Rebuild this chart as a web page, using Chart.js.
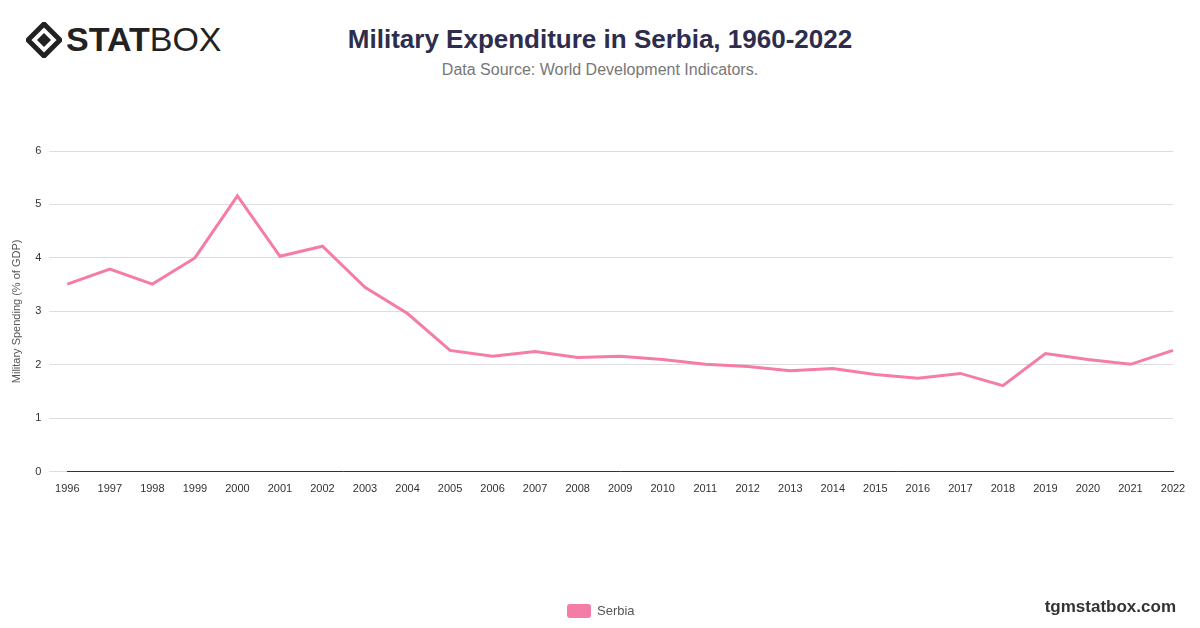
<!DOCTYPE html>
<html>
<head>
<meta charset="utf-8">
<script src="https://cdn.jsdelivr.net/npm/chart.js@4"></script>
<style>
  body { margin: 0; width: 1200px; height: 628px; background: #fff; font-family: "Helvetica Neue", Arial, "Liberation Sans", sans-serif; position: relative; overflow: hidden; }
  #logo { position: absolute; left: 26px; top: 20px; font-size: 34px; color: #222; display: flex; align-items: center; }
  #logo b { font-weight: 900; }
  #title { position: absolute; top: 24px; left: 0; width: 1200px; text-align: center; font-size: 26px; font-weight: bold; color: #2e2d4d; }
  #sub { position: absolute; top: 61px; left: 0; width: 1200px; text-align: center; font-size: 16px; color: #777; }
  #chart { position: absolute; left: 0; top: 0; }
  #legend { position: absolute; top: 603px; left: 567px; font-size: 13px; color: #555; display: flex; align-items: center; }
  #legend span.box { display: inline-block; width: 24px; height: 14px; background: #f47ca6; border-radius: 3px; margin-right: 6px; }
  #site { position: absolute; right: 24px; top: 597px; font-size: 17px; font-weight: bold; color: #333; }
</style>
</head>
<body>
<div id="logo">
  <svg width="36" height="36" viewBox="0 0 36 36"><path d="M18 2 L34 18 L18 34 L2 18 Z" fill="none" stroke="#222" stroke-width="5"/><path d="M18 11 L25 18 L18 25 L11 18 Z" fill="#222"/></svg>
  <span style="margin-left:4px"><b>STAT</b>BOX</span>
</div>
<div id="title">Military Expenditure in Serbia, 1960-2022</div>
<div id="sub">Data Source: World Development Indicators.</div>
<canvas id="chart" width="1200" height="628"></canvas>
<div id="legend"><span class="box"></span>Serbia</div>
<div id="site">tgmstatbox.com</div>
<script>
// Years on the x axis
const years = ['1996','1997','1998','1999','2000','2001','2002','2003','2004','2005','2006','2007','2008','2009',
  '2010','2011','2012','2013','2014','2015','2016','2017','2018','2019','2020','2021','2022'];

// Military spending, % of GDP
const spending = [3.51, 3.79, 3.51, 4.0, 5.16, 4.03, 4.22, 3.45, 2.96, 2.27, 2.16, 2.25, 2.14, 2.16,
  2.1, 2.01, 1.97, 1.89, 1.93, 1.82, 1.75, 1.84, 1.61, 2.21, 2.1, 2.01, 2.27];

const ctx = document.getElementById('chart').getContext('2d');
new Chart(ctx, {
  type: 'line',
  data: {
    labels: years,
    datasets: [{
      label: 'Serbia',
      data: spending,
      borderColor: '#f47ca6',
      backgroundColor: '#f47ca6',
      borderWidth: 3,
      pointRadius: 0,
      tension: 0,
    }],
  },
  options: {
    responsive: false,
    animation: false,
    layout: { padding: { top: 151, left: 6, right: 27, bottom: 129 } },
    plugins: { legend: { display: false }, tooltip: { enabled: false } },
    scales: {
      x: {
        grid: { display: false },
        border: { color: '#333' },
        ticks: { color: '#333', font: { size: 11 }, maxRotation: 0, autoSkip: false },
      },
      y: {
        min: 0, max: 6,
        ticks: { stepSize: 1, color: '#333', font: { size: 11 }, padding: 8 },
        grid: { color: '#dddddd', tickLength: 18 },
        border: { display: false },
        title: { display: true, text: 'Military Spending (% of GDP)', color: '#555', font: { size: 11 } },
      },
    },
  },
});
</script>
</body>
</html>
